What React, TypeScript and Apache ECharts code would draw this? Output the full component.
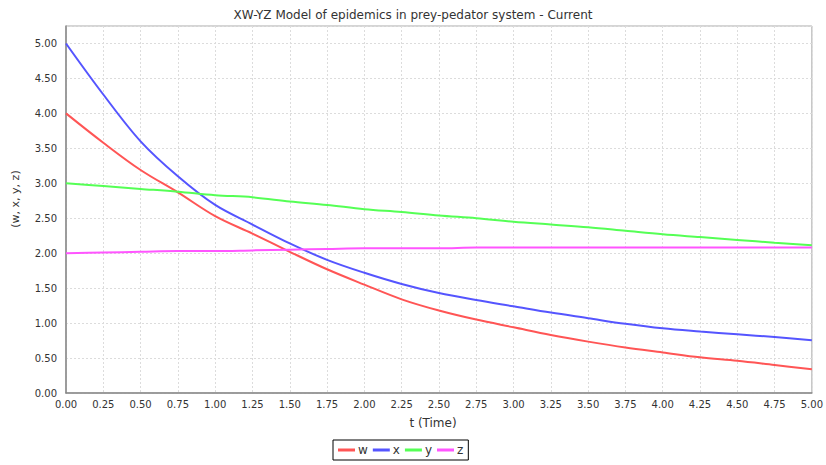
import React, { useEffect, useRef } from "react";
import * as echarts from "echarts";

const times = [0, 0.25, 0.5, 0.75, 1.0, 1.25, 1.5, 1.75, 2.0, 2.25, 2.5, 2.75, 3.0, 3.25, 3.5, 3.75, 4.0, 4.25, 4.5, 4.75, 5.0];
const wValues = [4.0, 3.58, 3.19, 2.87, 2.53, 2.28, 2.02, 1.77, 1.55, 1.34, 1.18, 1.05, 0.94, 0.83, 0.735, 0.65, 0.58, 0.51, 0.46, 0.4, 0.34];
const xValues = [5.0, 4.27, 3.6, 3.1, 2.69, 2.41, 2.14, 1.905, 1.72, 1.56, 1.43, 1.33, 1.24, 1.15, 1.07, 0.99, 0.925, 0.88, 0.84, 0.8, 0.755];
const yValues = [3.0, 2.96, 2.92, 2.88, 2.83, 2.8, 2.74, 2.69, 2.63, 2.59, 2.54, 2.5, 2.45, 2.41, 2.37, 2.32, 2.27, 2.23, 2.19, 2.15, 2.115];
const zValues = [2.0, 2.01, 2.02, 2.03, 2.03, 2.04, 2.05, 2.06, 2.07, 2.07, 2.07, 2.08, 2.08, 2.08, 2.08, 2.08, 2.08, 2.08, 2.08, 2.08, 2.08];

const seriesNames = ["w", "x", "y", "z"];
const seriesColors = ["#ff5555", "#5555ff", "#55ff55", "#ff55ff"];
const allValues = [wValues, xValues, yValues, zValues];

const FONT = "DejaVu Sans";

export default function App() {
  const ref = useRef<HTMLDivElement>(null);
  useEffect(() => {
    if (!ref.current) return;
    const chart = echarts.init(ref.current, null, { renderer: "svg" });
    chart.setOption({
      animation: false,
      backgroundColor: "#ffffff",
      title: {
        text: "XW-YZ Model of epidemics in prey-pedator system - Current",
        left: "center",
        top: 4,
        textStyle: { fontFamily: FONT, fontSize: 12, fontWeight: "normal", color: "#333" },
      },
      graphic: [
        {
          type: "text",
          x: 433,
          y: 423,
          style: { text: "t (Time)", fontFamily: FONT, fontSize: 12, fill: "#333", align: "center", verticalAlign: "middle" },
        },
        {
          type: "text",
          x: 15,
          y: 199,
          rotation: Math.PI / 2,
          style: { text: "(w, x, y, z)", fontFamily: FONT, fontSize: 11, fill: "#333", align: "center", verticalAlign: "middle" },
        },
      ],
      legend: {
        data: seriesNames,
        left: 333,
        top: 440,
        padding: [4, 5],
        itemGap: 5,
        itemWidth: 17,
        itemHeight: 3,
        icon: "rect",
        borderColor: "#000",
        borderWidth: 1,
        textStyle: { fontFamily: FONT, fontSize: 12, color: "#333", padding: [0, 0, 0, -2] },
      },
      grid: {
        left: 66,
        right: 10,
        top: 26,
        bottom: 72,
        show: true,
        borderColor: "#aaa",
        borderWidth: 1,
      },
      xAxis: {
        type: "value",
        min: 0,
        max: 5,
        interval: 0.25,
        axisLine: { show: true, lineStyle: { color: "#888", width: 1.5 } },
        axisTick: { show: false },
        axisLabel: {
          fontFamily: FONT,
          fontSize: 10,
          color: "#333",
          margin: 6,
          formatter: (v: number) => v.toFixed(2),
        },
        splitLine: { show: true, lineStyle: { color: "#dcdcdc", type: [2, 2] } },
      },
      yAxis: {
        type: "value",
        min: 0,
        max: 5.25,
        interval: 0.5,
        axisLine: { show: true, lineStyle: { color: "#888", width: 1.5 } },
        axisTick: { show: false },
        axisLabel: {
          fontFamily: FONT,
          fontSize: 10,
          color: "#333",
          margin: 9,
          showMaxLabel: false,
          formatter: (v: number) => v.toFixed(2),
        },
        splitLine: { show: true, lineStyle: { color: "#dcdcdc", type: [2, 2] } },
      },
      series: seriesNames.map((name, i) => ({
        name,
        type: "line",
        data: times.map((t, j) => [t, allValues[i][j]]),
        showSymbol: false,
        symbol: "none",
        smooth: 0.35,
        color: seriesColors[i],
        lineStyle: { color: seriesColors[i], width: 2 },
      })),
    });
    return () => chart.dispose();
  }, []);
  return <div ref={ref} style={{ width: 826, height: 465, position: "absolute", left: 0, top: 0 }} />;
}
